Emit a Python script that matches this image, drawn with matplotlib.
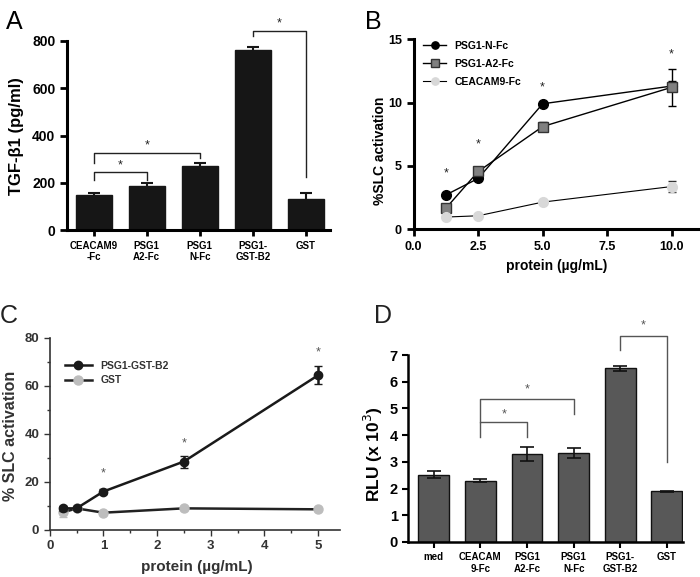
import numpy as np
import matplotlib.pyplot as plt

plt.rcParams['font.family'] = ['Liberation Sans', 'DejaVu Sans']

# ---- panel A data
a_labels = ['CEACAM9\n-Fc', 'PSG1\nA2-Fc', 'PSG1\nN-Fc', 'PSG1-\nGST-B2', 'GST']
a_vals = [150, 187, 270, 763, 130]
a_err = [8, 12, 15, 12, 28]

# ---- panel B data
b_x = [1.25, 2.5, 5, 10]
b_n = [2.7, 4.0, 9.9, 11.3]
b_n_err = [0.1, 0.1, 0.1, 0.4]
b_a2 = [1.65, 4.55, 8.1, 11.2]
b_a2_err = [0.1, 0.2, 0.35, 1.45]
b_cea = [0.95, 1.05, 2.13, 3.36]
b_cea_err = [0.05, 0.05, 0.05, 0.45]
b_star_y = [4.4, 6.7, 11.2, 13.8]

# ---- panel C data
c_x = [0.25, 0.5, 1, 2.5, 5]
c_b2 = [9.0, 9.0, 16.0, 28.5, 64.4]
c_b2_err = [1.0, 0.8, 1.0, 2.5, 3.8]
c_gst = [7.3, 9.0, 7.2, 9.0, 8.6]
c_gst_err = [2.0, 0.5, 0.5, 0.5, 0.5]
c_star_x = [1, 2.5, 5]
c_star_y = [23.6, 36.2, 74]

# ---- panel D data
d_labels = ['med', 'CEACAM\n9-Fc', 'PSG1\nA2-Fc', 'PSG1\nN-Fc', 'PSG1-\nGST-B2', 'GST']
d_vals = [2.52, 2.3, 3.3, 3.33, 6.5, 1.9]
d_err = [0.13, 0.05, 0.25, 0.2, 0.1, 0.02]

fig = plt.figure(figsize=(7, 5.77), dpi=100)


def bracket(ax, x1, x2, y, yl, yr, color, lw, star_dy, fs):
    ax.plot([x1, x1, x2, x2], [yl, y, y, yr], color=color, lw=lw, clip_on=False)
    ax.text((x1 + x2) / 2, y + star_dy, '*', ha='center', va='center', fontsize=fs, color=color)


def bold_ticks(ax):
    for t in ax.get_xticklabels() + ax.get_yticklabels():
        t.set_fontweight('bold')


# ================= A
ax = fig.add_axes([0.096, 0.601, 0.375, 0.328])
xa = np.arange(len(a_vals))
ax.bar(xa, a_vals, width=0.68, color='#161616', edgecolor='#161616')
ax.errorbar(xa, a_vals, yerr=a_err, fmt='none', ecolor='#161616', elinewidth=1.5, capsize=4, capthick=1.5)
ax.set_xlim(-0.5, 4.45)
ax.set_ylim(0, 800)
ax.set_yticks([0, 200, 400, 600, 800])
ax.set_xticks(xa)
ax.set_xticklabels(a_labels, fontsize=7)
ax.tick_params(axis='x', length=4, width=2)
ax.tick_params(axis='y', length=5, width=2, labelsize=10)
bold_ticks(ax)
ax.set_ylabel('TGF-β1 (pg/ml)', fontsize=12, fontweight='bold')
ax.yaxis.set_label_coords(-0.165, 0.5)
for s in ['top', 'right']:
    ax.spines[s].set_visible(False)
for s in ['left', 'bottom']:
    ax.spines[s].set_linewidth(2.2)
bracket(ax, 0, 1, 247, 212, 212, '#222222', 1, 26, 9)
bracket(ax, 0, 2, 325, 283, 304, '#222222', 1, 33, 9)
bracket(ax, 3, 4, 841, 820, 226, '#222222', 1, 35, 9)
fig.text(0.008, 0.95, 'A', fontsize=18)

# ================= B
ax = fig.add_axes([0.591, 0.603, 0.409, 0.329])
e1 = ax.errorbar(b_x, b_n, yerr=b_n_err, color='black', lw=1, marker='o', ms=7,
                 mfc='black', mec='black', capsize=3)
e2 = ax.errorbar(b_x, b_a2, yerr=b_a2_err, color='black', lw=1, marker='s', ms=7,
                 mfc='#808080', mec='#333333', capsize=3)
e3 = ax.errorbar(b_x, b_cea, yerr=b_cea_err, color='black', lw=0.8, marker='o', ms=7,
                 mfc='#d8d8d8', mec='#d8d8d8', ecolor='#333333', capsize=3)
for x, y in zip(b_x, b_star_y):
    ax.text(x, y, '*', ha='center', va='center', fontsize=9, color='#222222')
ax.set_xlim(0, 11.1)
ax.set_ylim(0, 15)
ax.set_xticks([0, 2.5, 5, 7.5, 10])
ax.set_xticklabels(['0.0', '2.5', '5.0', '7.5', '10.0'])
ax.set_yticks([0, 5, 10, 15])
ax.tick_params(length=5, width=2, labelsize=9)
bold_ticks(ax)
ax.set_xlabel('protein (µg/mL)', fontsize=10, fontweight='bold')
ax.set_ylabel('%SLC activation', fontsize=10, fontweight='bold')
ax.xaxis.set_label_coords(0.5, -0.16)
ax.yaxis.set_label_coords(-0.092, 0.41)
for s in ['top', 'right']:
    ax.spines[s].set_visible(False)
for s in ['left', 'bottom']:
    ax.spines[s].set_linewidth(2.2)
ax.legend([e1[0], e2[0], e3[0]], ['PSG1-N-Fc', 'PSG1-A2-Fc', 'CEACAM9-Fc'],
          loc='upper left', bbox_to_anchor=(0.0, 1.04), frameon=False,
          prop={'size': 7.5, 'weight': 'bold'}, handlelength=2.2, labelspacing=0.75,
          markerscale=0.75)
fig.text(0.522, 0.95, 'B', fontsize=18)

# ================= C
cc = '#333333'
ax = fig.add_axes([0.071, 0.0815, 0.414, 0.333])
eg = ax.errorbar(c_x, c_gst, yerr=c_gst_err, color='#222222', lw=1.8, marker='o', ms=6.5,
                 mfc='#bdbdbd', mec='#bdbdbd', ecolor='#bdbdbd', capsize=3, zorder=2)
eb = ax.errorbar(c_x, c_b2, yerr=c_b2_err, color='#1a1a1a', lw=1.8, marker='o', ms=6,
                 mfc='#1a1a1a', mec='#1a1a1a', capsize=3, zorder=3)
for x, y in zip(c_star_x, c_star_y):
    ax.text(x, y, '*', ha='center', va='center', fontsize=9, color='#555555')
ax.set_xlim(0, 5.4)
ax.set_ylim(0, 80)
ax.set_xticks([0, 1, 2, 3, 4, 5])
ax.set_xticks(np.arange(0.5, 5.4, 1), minor=True)
ax.set_yticks([0, 20, 40, 60, 80])
ax.set_yticks([10, 30, 50, 70], minor=True)
ax.tick_params(which='major', length=4, width=1, labelsize=9.5, colors=cc)
ax.tick_params(which='minor', length=2.5, width=1, colors=cc)
bold_ticks(ax)
ax.set_xlabel('protein (µg/mL)', fontsize=11, fontweight='bold', color=cc)
ax.set_ylabel('% SLC activation', fontsize=11.5, fontweight='bold', color=cc)
ax.xaxis.set_label_coords(0.507, -0.155)
ax.yaxis.set_label_coords(-0.11, 0.49)
for s in ['top', 'right']:
    ax.spines[s].set_visible(False)
for s in ['left', 'bottom']:
    ax.spines[s].set_linewidth(1.2)
    ax.spines[s].set_color(cc)
ax.legend([eb[0], eg[0]], ['PSG1-GST-B2', 'GST'], loc='upper left',
          bbox_to_anchor=(0.02, 0.93), frameon=False,
          prop={'size': 7.5, 'weight': 'bold'}, handlelength=2.6, labelspacing=0.45,
          labelcolor=cc)
fig.text(0.0, 0.44, 'C', fontsize=18, color='#222222')

# ================= D
ax = fig.add_axes([0.583, 0.0607, 0.393, 0.324])
xd = np.arange(len(d_vals))
ax.bar(xd, d_vals, width=0.66, color='#585858', edgecolor='#111111', linewidth=1)
ax.errorbar(xd, d_vals, yerr=d_err, fmt='none', ecolor='#111111', elinewidth=1.2, capsize=5, capthick=1.2)
ax.set_xlim(-0.55, 5.35)
ax.set_ylim(0, 7)
ax.set_yticks(range(8))
ax.set_xticks(xd)
ax.set_xticklabels(d_labels, fontsize=7)
ax.tick_params(axis='x', length=4, width=1.5)
ax.tick_params(axis='y', length=4, width=1.5, labelsize=10.5)
bold_ticks(ax)
ax.set_ylabel('RLU (x 10$^3$)', fontsize=12.5, fontweight='bold')
ax.yaxis.set_label_coords(-0.084, 0.47)
for s in ['top', 'right']:
    ax.spines[s].set_visible(False)
for s in ['left', 'bottom']:
    ax.spines[s].set_linewidth(1.8)
bracket(ax, 1, 2, 4.5, 3.94, 3.94, '#555555', 1, 0.27, 9)
bracket(ax, 1, 3, 5.37, 4.5, 4.79, '#555555', 1, 0.33, 9)
bracket(ax, 4, 5, 7.72, 7.2, 3.0, '#555555', 1, 0.38, 9)
fig.text(0.535, 0.44, 'D', fontsize=18, color='#222222')

fig.savefig('out.png', dpi=100)
